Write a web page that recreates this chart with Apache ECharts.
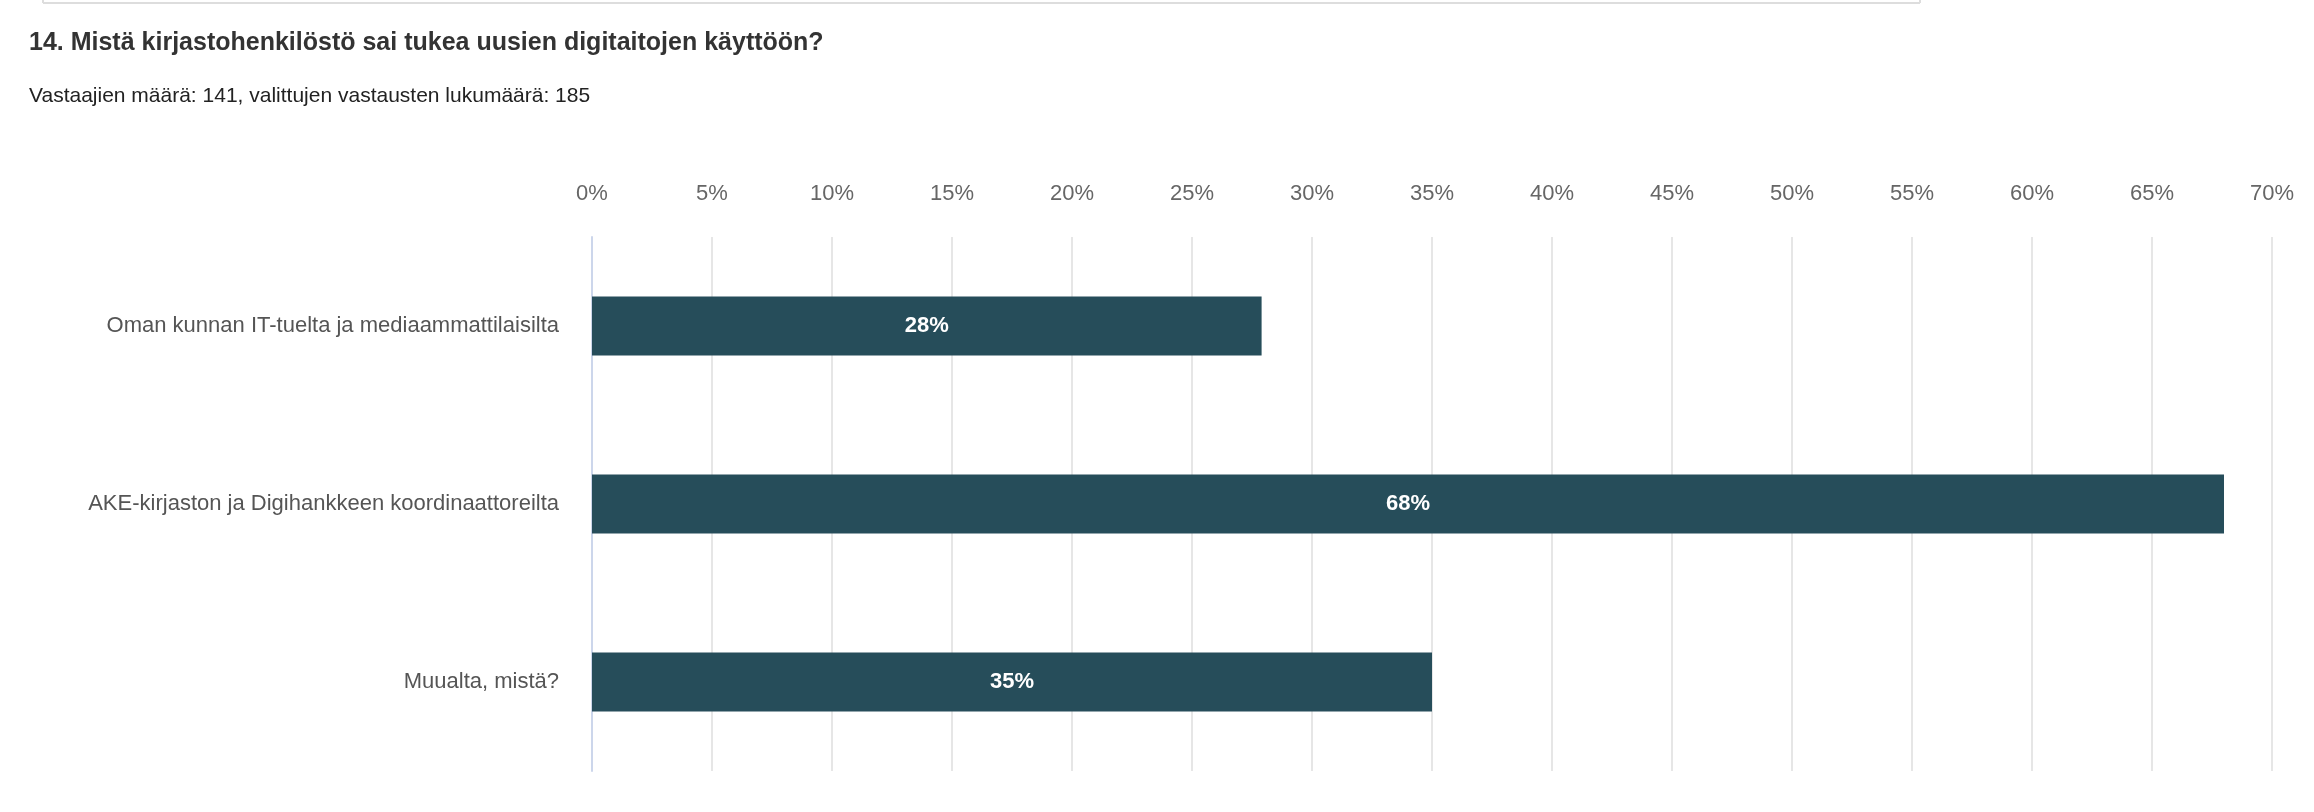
<!DOCTYPE html>
<html>
<head>
<meta charset="utf-8">
<script src="https://cdn.jsdelivr.net/npm/echarts@6/dist/echarts.min.js"></script>
<style>
	html, body { margin: 0; padding: 0; background: #fff; }
	#chart { width: 2314px; height: 812px; }
</style>
</head>
<body>
<div id="chart"></div>
<script>
var categories = [
	"Oman kunnan IT-tuelta ja mediaammattilaisilta",
	"AKE-kirjaston ja Digihankkeen koordinaattoreilta",
	"Muualta, mistä?"
];
var percents = [27.9, 68.0, 35.0];
var labels = ["28%", "68%", "35%"];

var chart = echarts.init(document.getElementById("chart"));
var font = "Liberation Sans, Arial, sans-serif";
var option = {
	backgroundColor: "#fff",
	animation: false,
	title: {
		text: "14. Mistä kirjastohenkilöstö sai tukea uusien digitaitojen käyttöön?",
		subtext: "Vastaajien määrä: 141, valittujen vastausten lukumäärä: 185",
		left: 24,
		top: 26,
		itemGap: 30,
		textStyle: { fontFamily: font, fontSize: 25, fontWeight: "bold", color: "#333" },
		subtextStyle: { fontFamily: font, fontSize: 21, color: "#222" }
	},
	graphic: [
		{ type: "line", shape: { x1: 43, y1: 3, x2: 1920, y2: 3 }, style: { stroke: "#ddd", lineWidth: 2 } },
		{ type: "line", shape: { x1: 43, y1: 0, x2: 43, y2: 3 }, style: { stroke: "#ddd", lineWidth: 2 } },
		{ type: "line", shape: { x1: 1920, y1: 0, x2: 1920, y2: 3 }, style: { stroke: "#ddd", lineWidth: 2 } }
	],
	grid: { left: 592, right: 42, top: 237, bottom: 41 },
	xAxis: {
		type: "value",
		position: "top",
		min: 0,
		max: 70,
		interval: 5,
		axisLine: { show: false },
		axisTick: { show: false },
		axisLabel: { formatter: "{value}%", fontFamily: font, fontSize: 22, color: "#666", margin: 32 },
		splitLine: { lineStyle: { color: "#e6e6e6", width: 2 } }
	},
	yAxis: {
		type: "category",
		inverse: true,
		data: categories,
		axisLine: { show: true, lineStyle: { color: "#ccd6eb", width: 2 } },
		axisTick: { show: false },
		axisLabel: { fontFamily: font, fontSize: 22, color: "#555", margin: 33 }
	},
	series: [{
		type: "bar",
		data: percents,
		barWidth: 59,
		itemStyle: { color: "#264d5a" },
		label: {
			show: true,
			position: "inside",
			formatter: function (p) { return labels[p.dataIndex]; },
			fontFamily: font,
			fontSize: 22,
			fontWeight: "bold",
			color: "#fff"
		}
	}]
};
chart.setOption(option);
</script>
</body>
</html>
